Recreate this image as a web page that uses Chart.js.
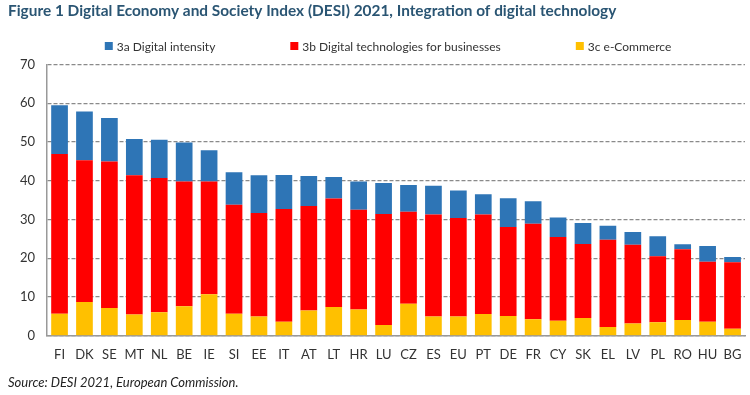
<!DOCTYPE html>
<html>
<head>
<meta charset="utf-8">
<script src="https://cdn.jsdelivr.net/npm/chart.js@4"></script>
<style>
  html, body { margin: 0; padding: 0; background: #fff; }
  #wrap { width: 750px; height: 395px; }
</style>
</head>
<body>
<div id="wrap"><canvas id="chart"></canvas></div>
<script>
const countries = ['FI','DK','SE','MT','NL','BE','IE','SI','EE','IT','AT','LT','HR','LU','CZ','ES','EU','PT','DE','FR','CY','SK','EL','LV','PL','RO','HU','BG'];
const eCommerce = [5.7, 8.7, 7.2, 5.5, 6.1, 7.6, 10.7, 5.7, 5.0, 3.6, 6.5, 7.4, 6.8, 2.8, 8.3, 5.0, 5.0, 5.6, 5.1, 4.3, 3.9, 4.6, 2.3, 3.2, 3.5, 4.1, 3.6, 1.8];
const digitalTech = [41.2, 36.6, 37.8, 35.9, 34.6, 32.2, 29.1, 28.1, 26.7, 29.1, 27.0, 28.0, 25.7, 28.6, 23.7, 26.3, 25.4, 25.7, 23.0, 24.6, 21.6, 19.1, 22.5, 20.3, 17.0, 18.2, 15.5, 17.2];
const digitalIntensity = [12.6, 12.6, 11.2, 9.4, 9.9, 10.1, 8.1, 8.4, 9.7, 8.8, 7.7, 5.6, 7.3, 8.0, 6.9, 7.4, 7.1, 5.2, 7.4, 5.8, 5.0, 5.4, 3.6, 3.3, 5.2, 1.3, 4.1, 1.3];
const yTicks = [0, 10, 20, 30, 40, 50, 60, 70];

const font = 'Lato, "Open Sans", sans-serif';

// legend drawn by hand: the original spreads the three items far apart
const wideLegend = {
  id: 'wideLegend',
  afterDraw(chart) {
    const c = chart.ctx;
    const items = chart.data.datasets.slice().reverse();
    const gap = 75, box = 8;
    c.save();
    c.font = '12px ' + font;
    c.textBaseline = 'middle';
    const widths = items.map(d => box + 4 + c.measureText(d.label).width);
    const total = widths.reduce((a, b) => a + b, 0) + gap * (items.length - 1);
    let x = 388 - total / 2;
    const y = 46;
    items.forEach((d, i) => {
      c.fillStyle = d.backgroundColor;
      c.fillRect(x, y - box / 2, box, box);
      c.fillStyle = '#333';
      c.fillText(d.label, x + box + 4, y + 1);
      x += widths[i] + gap;
    });
    c.restore();
  }
};

const ctx = document.getElementById('chart').getContext('2d');
new Chart(ctx, {
  type: 'bar',
  data: {
    labels: countries,
    datasets: [
      { label: '3c e-Commerce', data: eCommerce, backgroundColor: '#FFC000', borderWidth: 0 },
      { label: '3b Digital technologies for businesses', data: digitalTech, backgroundColor: '#FF0000', borderWidth: 0 },
      { label: '3a Digital intensity', data: digitalIntensity, backgroundColor: '#2E75B6', borderWidth: 0 }
    ]
  },
  options: {
    responsive: true,
    maintainAspectRatio: false,
    animation: false,
    layout: { padding: { left: 8, right: 5, top: 0, bottom: 2 } },
    datasets: { bar: { barPercentage: 0.67, categoryPercentage: 1 } },
    plugins: {
      title: {
        display: true,
        text: 'Figure 1 Digital Economy and Society Index (DESI) 2021, Integration of digital technology',
        align: 'start',
        color: '#2A5573',
        font: { family: font, size: 15.4, weight: 'bold' },
        padding: { top: 2, bottom: 44 }
      },
      subtitle: {
        display: true,
        position: 'bottom',
        text: 'Source: DESI 2021, European Commission.',
        align: 'start',
        color: '#222',
        font: { family: font, size: 13, style: 'italic' },
        padding: { top: 10, bottom: 2 }
      },
      legend: { display: false },
      tooltip: { enabled: false }
    },
    scales: {
      x: {
        stacked: true,
        grid: { display: false },
        border: { display: true, color: '#999', width: 1.5 },
        ticks: { color: '#333', font: { family: font, size: 13 }, maxRotation: 0, autoSkip: false }
      },
      y: {
        stacked: true,
        min: 0,
        max: 70,
        afterBuildTicks: axis => { axis.ticks = yTicks.map(v => ({ value: v })); },
        grid: { color: '#8a8a8a', lineWidth: 1.3, drawTicks: false },
        border: { display: true, color: '#999', width: 1.5, dash: [4, 2] },
        ticks: { color: '#333', font: { family: font, size: 13 }, padding: 12 }
      }
    }
  },
  plugins: [wideLegend]
});
</script>
</body>
</html>
